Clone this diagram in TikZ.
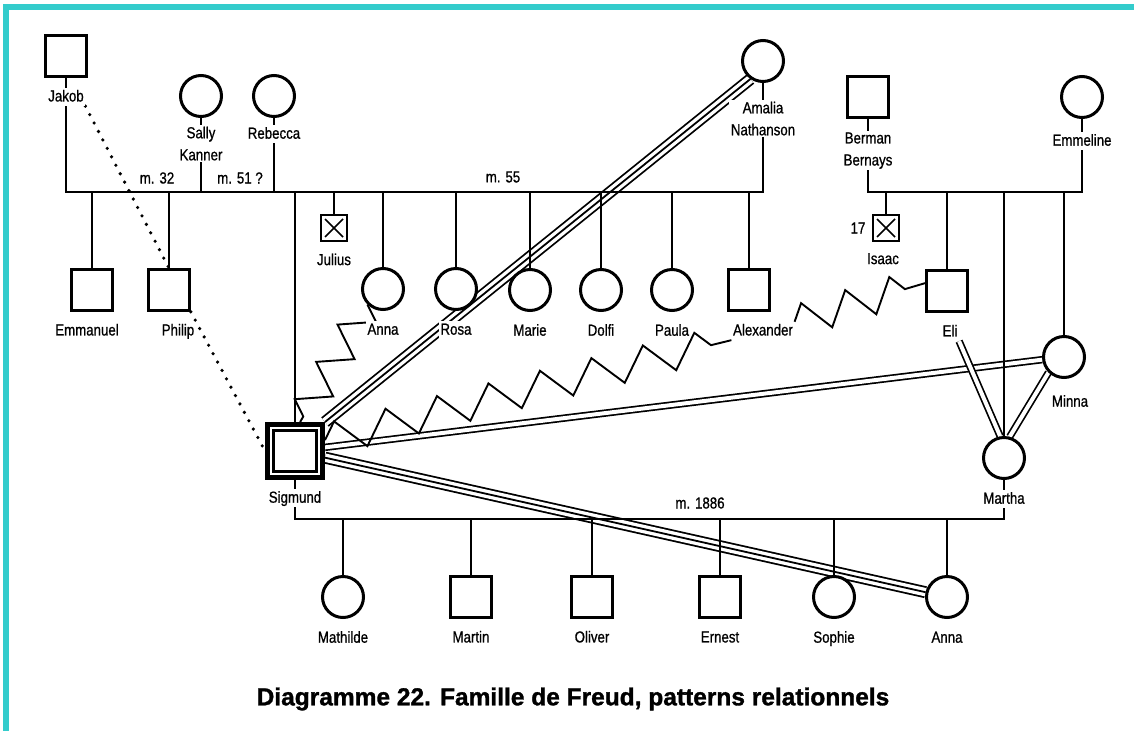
\documentclass[tikz,border=0pt]{standalone}
\usepackage{fontspec}
\setmainfont{Liberation Sans}
\newfontfamily\labfont[FakeStretch=0.83,FakeBold=0.8]{Liberation Sans}
\newfontfamily\capfont[BoldFeatures={FakeBold=1.3}]{Liberation Sans}
\usetikzlibrary{positioning,decorations.pathmorphing}
\definecolor{framecyan}{RGB}{51,204,204}
\pgfdeclarelayer{bg}
\pgfsetlayers{bg,main}
\tikzset{
  male/.style={draw,line width=3pt,fill=white,minimum size=40.5pt,inner sep=0pt},
  female/.style={draw,circle,line width=3pt,fill=white,minimum size=41pt,inner sep=0pt},
  dead/.style={draw,line width=2.8pt,fill=white,minimum size=26pt,inner sep=0pt,
    path picture={\draw[line width=1.5pt]
      ([shift={(4pt,4pt)}]path picture bounding box.south west) -- ([shift={(-4pt,-4pt)}]path picture bounding box.north east)
      ([shift={(4pt,-4pt)}]path picture bounding box.north west) -- ([shift={(-4pt,4pt)}]path picture bounding box.south east);}},
  index/.style={draw,line width=5pt,fill=white,minimum width=55pt,minimum height=53pt,inner sep=0pt,
    path picture={\draw[line width=2.4pt]
      ([shift={(6pt,6pt)}]path picture bounding box.south west) rectangle ([shift={(-6pt,-6pt)}]path picture bounding box.north east);}},
  labbase/.style={font=\labfont\fontsize{16}{22}\selectfont,fill=white,inner sep=1.5pt,align=center},
  lab/.style={labbase,text height=12pt,text depth=3pt},
  mlab/.style={font=\labfont\fontsize{16}{22}\selectfont,inner sep=0pt},
  rel/.style={line width=1.9pt},
  close/.style={double,double distance=4pt,line width=1.7pt},
  fused/.style={preaction={draw,line width=12pt},preaction={draw,white,line width=8.4pt},line width=1.8pt},
  conflict/.style={line width=1.9pt,decorate,decoration={zigzag,segment length=#1,amplitude=16pt}},
  conflict/.default=52pt,
  distant/.style={line width=3.6pt,line cap=round,dash pattern=on 0pt off 9.5pt}
}
\begin{document}
\begin{tikzpicture}[x=1pt,y=-1pt]
\useasboundingbox (0,0) rectangle (1134,731);
\fill[framecyan] (3,4) rectangle (1134,10);
\fill[framecyan] (3,4) rectangle (9,731);

\node[male] (jakob) at (66,56) {};
\node[female] (sally) at (201,96) {};
\node[female] (rebecca) at (274,96) {};
\node[female] (amalia) at (763,61) {};
\node[male] (berman) at (868,97) {};
\node[female] (emmeline) at (1082,97) {};

\node[male] (emmanuel) at (92,290) {};
\node[male] (philip) at (169,290) {};
\node[index] (sigmund) at (295,451) {};
\node[dead] (julius) at (334,228) {};
\node[female] (annaS) at (383,289) {};
\node[female] (rosa) at (456,289) {};
\node[female] (marie) at (530,290) {};
\node[female] (dolfi) at (601,290) {};
\node[female] (paula) at (672,290) {};
\node[male] (alexander) at (749,290) {};

\node[dead] (isaac) at (886,228) {};
\node[male] (eli) at (947,291) {};
\node[female] (minna) at (1064,357) {};
\node[female] (martha) at (1004,458) {};

\node[female] (mathilde) at (343,597) {};
\node[male] (martin) at (471,597) {};
\node[male] (oliver) at (592,597) {};
\node[male] (ernest) at (720,597) {};
\node[female] (sophie) at (834,597) {};
\node[female] (annaD) at (947,597) {};

\node[lab,below=10pt of jakob] (jakobL) {Jakob};
\node[labbase,below=7pt of sally] (sallyL) {Sally\\Kanner};
\node[lab,below=7pt of rebecca] (rebeccaL) {Rebecca};
\node[labbase,below=17pt of amalia] (amaliaL) {Amalia\\Nathanson};
\node[labbase,below=12pt of berman] (bermanL) {Berman\\Bernays};
\node[lab,below=13pt of emmeline] (emmelineL) {Emmeline};
\node[lab,below=10pt of emmanuel,xshift=-5pt] (emmanuelL) {Emmanuel};
\node[lab,below=10pt of philip,xshift=9pt] (philipL) {Philip};
\node[lab,below=9pt of sigmund] (sigmundL) {Sigmund};
\node[lab,below=9pt of julius] (juliusL) {Julius};
\node[lab,below=10pt of annaS] (annaSL) {Anna};
\node[lab,below=10pt of rosa] (rosaL) {Rosa};
\node[lab,below=10pt of marie] (marieL) {Marie};
\node[lab,below=10pt of dolfi] (dolfiL) {Dolfi};
\node[lab,below=10pt of paula] (paulaL) {Paula};
\node[lab,below=10pt of alexander,xshift=14pt] (alexanderL) {Alexander};
\node[lab,below=8pt of isaac,xshift=-3pt] (isaacL) {Isaac};
\node[mlab,left=6pt of isaac] (isaacAge) {17};
\node[lab,below=10pt of eli,xshift=3pt] (eliL) {Eli};
\node[lab,below=14pt of minna,xshift=6pt] (minnaL) {Minna};
\node[lab,below=10pt of martha] (marthaL) {Martha};
\node[lab,below=10pt of mathilde] (mathildeL) {Mathilde};
\node[lab,below=10pt of martin] (martinL) {Martin};
\node[lab,below=10pt of oliver] (oliverL) {Oliver};
\node[lab,below=10pt of ernest] (ernestL) {Ernest};
\node[lab,below=10pt of sophie] (sophieL) {Sophie};
\node[lab,below=10pt of annaD] (annaDL) {Anna};

\node[mlab] (m32) at (157,178) {m. 32};
\node[mlab] (m51) at (240,178) {m. 51 ?};
\node[mlab] (m55) at (503,177) {m. 55};
\node[mlab] (m1886) at (700,503) {m. 1886};

\node[font=\capfont\bfseries\fontsize{24.5}{28}\selectfont] (caption) at (573,699)
  {Diagramme 22. Famille de Freud, patterns relationnels};

\coordinate (sib1) at (0,192);
\coordinate (sib2) at (0,519);

\begin{pgfonlayer}{bg}
\draw[fused] (amalia.235) -- (sigmund.north east);
\draw[fused] (sigmund) -- (annaD);
\draw[close] (sigmund) -- (minna);
\draw[close] (eliL.south east) -- (martha.100);
\draw[close] (minna.225) -- (martha.75);
\draw[conflict=43pt] (annaS.225) -- (sigmund.80);
\draw[conflict=53pt] (sigmund.20) -- (alexanderL.south west);
\draw[conflict=46pt] (alexanderL.north east) -- (eli.160);
\draw[distant] (jakobL.south east) -- (philip.north);
\draw[distant] (philip.south east) -- (sigmund.west);

\draw[rel] (jakob.south) -- (jakob.south |- sib1) -| (amalia.south);
\draw[rel] (sally.south) -- (sally.south |- sib1);
\draw[rel] (rebecca.south) -- (rebecca.south |- sib1);
\foreach \c in {emmanuel,philip,sigmund,julius,annaS,rosa,marie,dolfi,paula,alexander}
  \draw[rel] (\c.north) -- (\c.north |- sib1);
\draw[rel] (berman.south) -- (berman.south |- sib1) -| (emmeline.south);
\foreach \c in {isaac,eli,martha,minna}
  \draw[rel] (\c.north) -- (\c.north |- sib1);
\draw[rel] (sigmund.south) -- (sigmund.south |- sib2) -| (martha.south);
\foreach \c in {mathilde,martin,oliver,ernest,sophie,annaD}
  \draw[rel] (\c.north) -- (\c.north |- sib2);
\end{pgfonlayer}
\end{tikzpicture}
\end{document}
